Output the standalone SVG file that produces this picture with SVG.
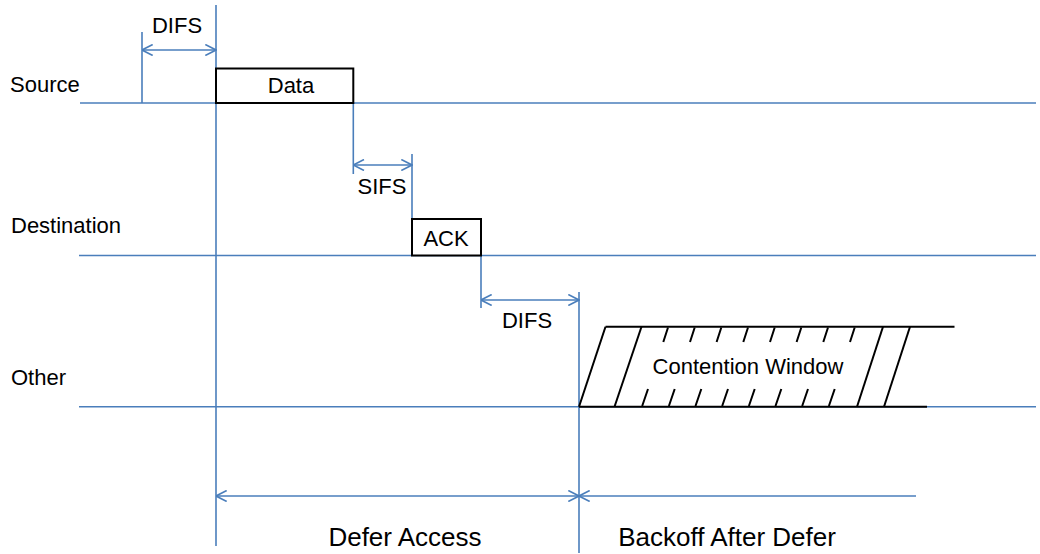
<svg xmlns="http://www.w3.org/2000/svg" width="1040" height="554" viewBox="0 0 1040 554">
  <defs>
    <style>
      .blue { stroke: #4A7EBB; stroke-width: 1.6; fill: none; }
      .ink { stroke: #000; stroke-width: 2; fill: none; }
      .box { stroke: #000; stroke-width: 2; fill: #fff; }
      .lbl { font-family: "Liberation Sans", Arial, sans-serif; font-size: 22px; fill: #000; }
      .big { font-family: "Liberation Sans", Arial, sans-serif; font-size: 26px; fill: #000; }
      .mid { text-anchor: middle; }
      .dim { stroke: #4A7EBB; stroke-width: 1.6; fill: none; }
      .both { marker-start: url(#ah); marker-end: url(#ah); }
    </style>
    <!-- open V arrowhead; reversed at the start of a line -->
    <marker id="ah" viewBox="0 0 12 12" refX="11.5" refY="6" markerWidth="12" markerHeight="12" markerUnits="userSpaceOnUse" orient="auto-start-reverse">
      <path d="M0.8,0.5 L11.5,6 L0.8,11.5" fill="none" stroke="#4A7EBB" stroke-width="1.6"/>
    </marker>
  </defs>

  <rect width="1040" height="554" fill="#fff"/>

  <!-- station timelines -->
  <g id="source">
    <line class="blue" x1="80" y1="103" x2="1036" y2="103"/>
    <text class="lbl" x="10" y="91.5">Source</text>
  </g>
  <g id="destination">
    <line class="blue" x1="79" y1="255.5" x2="1036" y2="255.5"/>
    <text class="lbl" x="11" y="233">Destination</text>
  </g>
  <g id="other">
    <line class="blue" x1="79" y1="406.7" x2="1036" y2="406.7"/>
    <text class="lbl" x="11" y="385">Other</text>
  </g>

  <!-- timing marks and interval arrows -->
  <g id="connectors">
    <!-- long vertical boundaries -->
    <line class="blue" x1="216" y1="5" x2="216" y2="546"/>
    <line class="blue" x1="579" y1="292" x2="579" y2="553"/>
    <!-- DIFS before data -->
    <line class="blue" x1="142" y1="32" x2="142" y2="103"/>
    <line class="dim both" x1="142" y1="50" x2="216" y2="50"/>
    <!-- SIFS -->
    <line class="blue" x1="353.3" y1="103" x2="353.3" y2="174"/>
    <line class="blue" x1="412" y1="154" x2="412" y2="219"/>
    <line class="dim both" x1="353.3" y1="165" x2="412" y2="165"/>
    <!-- DIFS after ACK -->
    <line class="blue" x1="481" y1="255.5" x2="481" y2="308"/>
    <line class="dim both" x1="481" y1="300" x2="579" y2="300"/>
    <!-- defer / backoff spans -->
    <line class="dim both" x1="216" y1="496" x2="579" y2="496"/>
    <line class="dim" x1="916" y1="496" x2="579" y2="496" marker-end="url(#ah)"/>
  </g>

  <g id="difs-label-1">
    <text class="lbl mid" x="177" y="33">DIFS</text>
  </g>

  <g id="data">
    <rect class="box" x="216" y="68.5" width="137.3" height="34.5"/>
    <text class="lbl mid" x="291" y="93">Data</text>
  </g>

  <g id="sifs-label">
    <text class="lbl mid" x="382" y="194">SIFS</text>
  </g>

  <g id="ack">
    <rect class="box" x="412" y="219" width="69" height="36.5"/>
    <text class="lbl mid" x="446" y="246">ACK</text>
  </g>

  <g id="difs-label-2">
    <text class="lbl mid" x="527" y="328">DIFS</text>
  </g>

  <g id="contention-window">
    <line class="ink" x1="605.5" y1="326.7" x2="954.5" y2="326.7"/>
    <line class="ink" x1="579" y1="406.7" x2="927" y2="406.7"/>
    <!-- full slanted strokes -->
    <line class="ink" x1="579" y1="406.7" x2="605.5" y2="326.7"/>
    <line class="ink" x1="614.5" y1="406.7" x2="641.5" y2="326.7"/>
    <line class="ink" x1="857" y1="406.7" x2="883" y2="326.7"/>
    <line class="ink" x1="884" y1="406.7" x2="910" y2="326.7"/>
    <!-- broken strokes: upper parts -->
    <path class="ink" d="M668,327.5 L663.3,342 M694.7,327.5 L690,342 M721.3,327.5 L716.6,342 M748,327.5 L743.3,342 M774.7,327.5 L770,342 M801.3,327.5 L796.6,342 M828,327.5 L823.3,342 M854.7,327.5 L850,342"/>
    <!-- broken strokes: lower parts -->
    <path class="ink" d="M648,389 L642.2,406 M674.7,389 L668.9,406 M701.3,389 L695.5,406 M728,389 L722.2,406 M754.7,389 L748.9,406 M781.3,389 L775.5,406 M808,389 L802.2,406 M834.7,389 L828.9,406"/>
    <text class="lbl mid" x="748" y="374">Contention Window</text>
  </g>

  <g id="defer-access">
    <text class="big mid" x="405" y="546">Defer Access</text>
  </g>
  <g id="backoff-after-defer">
    <text class="big mid" x="727" y="546">Backoff After Defer</text>
  </g>
</svg>
